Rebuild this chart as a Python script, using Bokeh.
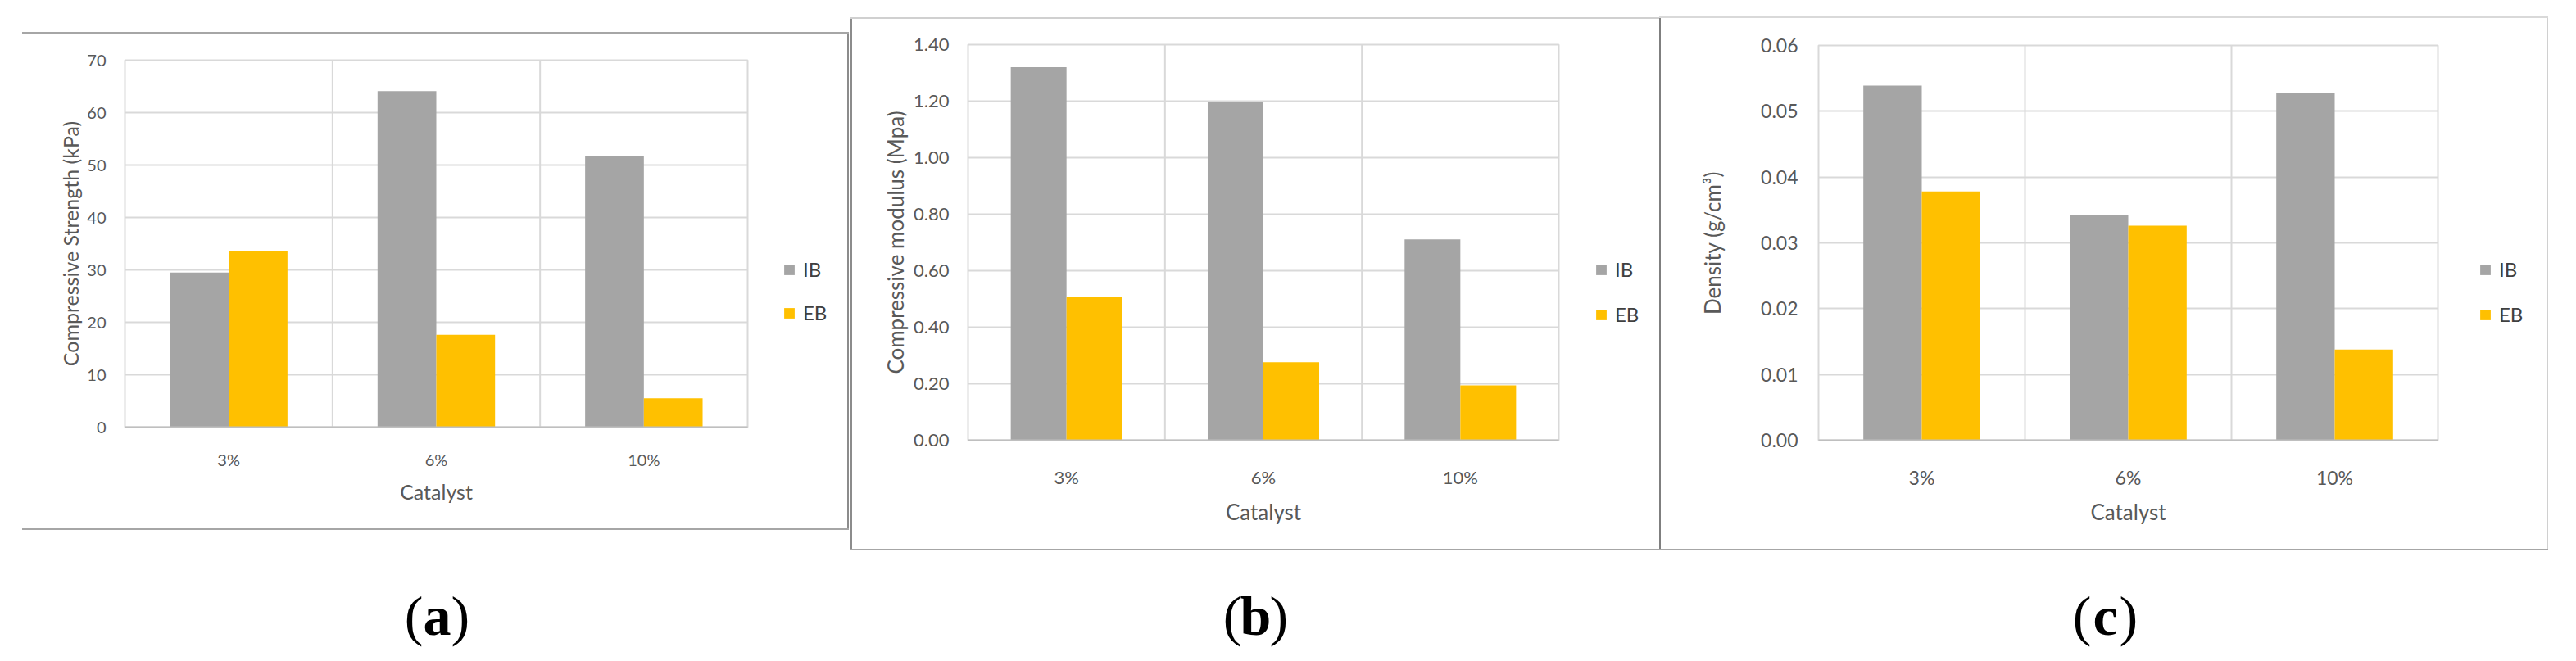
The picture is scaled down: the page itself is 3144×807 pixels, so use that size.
from bokeh.plotting import figure
from bokeh.models import (FactorRange, Range1d, FixedTicker, NumeralTickFormatter,
                          Span, Label, Legend, LegendItem, ColumnDataSource, Spacer)
from bokeh.transform import dodge
from bokeh.layouts import row, column
from bokeh.embed import file_html
from bokeh.resources import INLINE

# ---------------- data ----------------
catalysts = ["3%", "6%", "10%"]
series_names = ["IB", "EB"]
strength_ib = [29.5, 64.1, 51.8]
strength_eb = [33.6, 17.6, 5.5]
modulus_ib = [1.32, 1.196, 0.711]
modulus_eb = [0.509, 0.276, 0.194]
density_ib = [0.0539, 0.0342, 0.0528]
density_eb = [0.0378, 0.0326, 0.0138]
y_titles = ["Compressive Strength (kPa)", "Compressive modulus (Mpa)", "Density (g/cm\u00b3)"]
y_max = [70, 1.4, 0.06]
y_step = [10, 0.2, 0.01]
y_formats = ["0", "0.00", "0.00"]
x_title = "Catalyst"
panel_tags = ["a", "b", "c"]

IB_COLOR = "#A5A5A5"
EB_COLOR = "#FFC000"
GRID = "#D9D9D9"
TXT = "#595959"
FONT = "Lato"

values = [(strength_ib, strength_eb), (modulus_ib, modulus_eb), (density_ib, density_eb)]
BAR_W = 0.283
ITEM_H = 28

# page-coordinate geometry of each chart figure (x0,x1,y0,y1) and its plot frame
geom = [
    dict(x0=35, x1=963, y0=49, y1=653, L=160, R=920, T=81, B=529,
         tick_fs=20, lab_fs=25, ystand=23, xstand=27, xlab_stand=9, ylab_stand=2),
    dict(x0=1048, x1=1954, y0=31, y1=678, L=1189, R=1910, T=62, B=545,
         tick_fs=22, lab_fs=26, ystand=23, xstand=31, xlab_stand=10, ylab_stand=3),
    dict(x0=2035, x1=3033, y0=30, y1=678, L=2227, R=2983, T=63, B=545,
         tick_fs=23, lab_fs=26, ystand=25, xstand=31, xlab_stand=9, ylab_stand=40),
]


def make_chart(i):
    g = geom[i]
    ib, eb = values[i]
    src = ColumnDataSource(dict(cat=catalysts, ib=ib, eb=eb))
    p = figure(width=g["x1"] - g["x0"], height=g["y1"] - g["y0"],
               x_range=FactorRange(*catalysts, range_padding=0),
               y_range=Range1d(0, y_max[i]),
               output_backend="svg", toolbar_location=None,
               min_border_left=g["L"] - g["x0"], min_border_right=g["x1"] - g["R"],
               min_border_top=g["T"] - g["y0"], min_border_bottom=g["y1"] - g["B"])
    p.outline_line_color = GRID
    p.outline_line_width = 2

    p.vbar(x=dodge("cat", -BAR_W / 2, range=p.x_range), top="ib", width=BAR_W,
           source=src, fill_color=IB_COLOR, line_color=None)
    p.vbar(x=dodge("cat", BAR_W / 2, range=p.x_range), top="eb", width=BAR_W,
           source=src, fill_color=EB_COLOR, line_color=None)

    n_ticks = int(round(y_max[i] / y_step[i]))
    ticks = [round(k * y_step[i], 6) for k in range(n_ticks + 1)]

    p.xgrid.visible = False
    p.ygrid.grid_line_color = GRID
    p.ygrid.grid_line_width = 2
    p.ygrid.ticker = FixedTicker(ticks=ticks)
    for k in range(1, len(catalysts)):
        p.add_layout(Span(location=k, dimension="height", line_color=GRID, line_width=2,
                          level="underlay"))

    p.yaxis.ticker = FixedTicker(ticks=ticks)
    p.yaxis.formatter = NumeralTickFormatter(format=y_formats[i])
    for ax in (p.xaxis[0], p.yaxis[0]):
        ax.major_tick_line_color = None
        ax.minor_tick_line_color = None
        ax.major_tick_in = 0
        ax.major_tick_out = 0
        ax.minor_tick_in = 0
        ax.minor_tick_out = 0
        ax.major_label_text_font = FONT
        ax.major_label_text_color = TXT
        ax.major_label_text_font_size = f"{g['tick_fs']}px"
        ax.axis_label_text_font = FONT
        ax.axis_label_text_color = TXT
        ax.axis_label_text_font_style = "normal"
        ax.axis_label_text_font_size = f"{g['lab_fs']}px"
    p.yaxis.axis_line_color = None
    p.xaxis.axis_line_color = "#BFBFBF"
    p.xaxis.axis_line_width = 2
    p.yaxis.major_label_standoff = g["ystand"]
    p.xaxis.major_label_standoff = g["xstand"]
    p.xaxis.axis_label = x_title
    p.yaxis.axis_label = y_titles[i]
    p.xaxis.axis_label_standoff = g["xlab_stand"]
    p.yaxis.axis_label_standoff = g["ylab_stand"]
    return p


def make_legend_fig(width, height, pitch):
    lf = figure(width=width, height=height, x_range=(0, 1), y_range=(0, 1),
                x_axis_type=None, y_axis_type=None, output_backend="svg",
                toolbar_location=None, min_border=0, outline_line_color=None)
    lf.grid.visible = False
    # one off-range point each, so the legend has a glyph to draw
    r_ib = lf.vbar(x=[-5], top=[0], width=0.1, fill_color=IB_COLOR, line_color=None)
    r_eb = lf.vbar(x=[-5], top=[0], width=0.1, fill_color=EB_COLOR, line_color=None)
    legend = Legend(items=[LegendItem(label=series_names[0], renderers=[r_ib]),
                           LegendItem(label=series_names[1], renderers=[r_eb])],
                    location="top_left",
                    orientation="vertical", glyph_width=16, glyph_height=16,
                    label_height=ITEM_H, label_standoff=9, spacing=pitch - ITEM_H,
                    padding=0, margin=0, border_line_color=None, background_fill_alpha=0,
                    label_text_font=FONT, label_text_font_size="24px",
                    label_text_color="#404040")
    lf.add_layout(legend)
    return lf


def legend_column(width, fig_top, fig_h, ib_center, pitch):
    top = ib_center - 5
    return column(gap(width, top - fig_top),
                  make_legend_fig(width, fig_h - (top - fig_top), pitch))


def make_tag(i, width, height, cx):
    t = figure(width=width, height=height, x_range=(0, 1), y_range=(0, 1),
               x_axis_type=None, y_axis_type=None, output_backend="svg",
               toolbar_location=None, min_border=0, outline_line_color=None)
    t.grid.visible = False
    fs = 68
    common = dict(y=40, x_units="screen", y_units="screen", text_font="Liberation Serif",
                  text_font_size=f"{fs}px", text_color="black", text_baseline="alphabetic")
    t.add_layout(Label(x=cx - 17, text="(", text_align="right", **common))
    t.add_layout(Label(x=cx, text=panel_tags[i], text_align="center",
                       text_font_style="bold", **common))
    t.add_layout(Label(x=cx + 17, text=")", text_align="left", **common))
    return t


def line(w, h, c):
    return Spacer(width=w, height=h, styles={"background-color": c})


def gap(w, h):
    return Spacer(width=w, height=h)


figA, figB, figC = [make_chart(i) for i in range(3)]
legA = legend_column(1042 - 963, 49, 604, 327, 52)
legB = legend_column(2033 - 1954, 31, 647, 327, 54)
legC = legend_column(3116 - 3033, 30, 648, 327, 54)

colA = column(
    gap(1037, 39),
    row(gap(27, 2), line(1009, 2, "#A6A6A6"), gap(1, 2)),
    row(gap(27, 604), figA, legA, line(2, 604, "#8C8C8C"), gap(1, 604)),
    row(gap(27, 2), line(1009, 2, "#A6A6A6"), gap(1, 2)),
    make_tag(0, 1037, 144, 541 - 8),
)
colB = column(
    gap(988, 21),
    row(gap(1, 2), line(987, 2, "#D0D0D0")),
    row(gap(1, 647), line(2, 647, "#8C8C8C"), figB, legB),
    row(gap(1, 2), line(987, 2, "#A6A6A6")),
    make_tag(1, 988, 119, 1540 - 1045),
)
colC = column(
    gap(1103, 20),
    row(line(1085, 2, "#D9D9D9"), gap(18, 2)),
    row(line(2, 648, "#7F7F7F"), figC, legC, line(2, 648, "#D0D0D0"), gap(18, 648)),
    row(line(1085, 2, "#A6A6A6"), gap(18, 2)),
    make_tag(2, 1103, 119, 2577 - 2033),
)

layout = row(colA, colB, colC)
open("out.html", "w").write(file_html(layout, INLINE))
